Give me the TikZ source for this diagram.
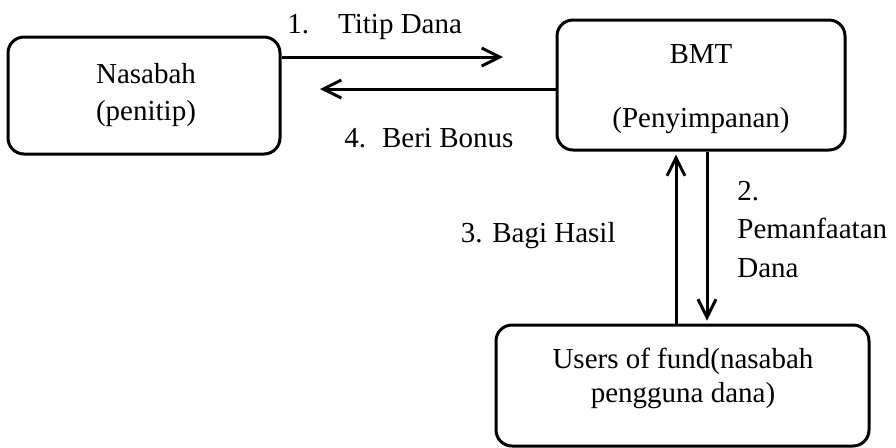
\documentclass[tikz,border=0pt]{standalone}
\usepackage{fontspec}
\setmainfont{Liberation Serif}
\usetikzlibrary{arrows.meta}
\begin{document}
\begin{tikzpicture}[x=0.5pt,y=-0.5pt,
  box/.style={draw, line width=1.5pt, rounded corners=8pt, inner sep=0pt},
  txt/.style={font=\fontsize{14.5}{17}\selectfont, inner sep=0pt},
  arr/.style={line width=1.5pt, -{Straight Barb[length=9pt,width=9pt]}}]
\useasboundingbox (0,0) rectangle (896,447);
% boxes
\node[box, minimum width=136pt, minimum height=58.5pt] (nas) at (144,95.5) {};
\node[box, minimum width=144pt, minimum height=65pt] (bmt) at (701,85) {};
\node[box, minimum width=186.5pt, minimum height=60.5pt] (users) at (682.5,385.5) {};
% box texts
\node[txt, anchor=base] (nas1) at (146,83) {Nasabah};
\node[txt, anchor=base] (nas2) at (146,120) {(penitip)};
\node[txt, anchor=base] (bmt1) at (701,63) {BMT};
\node[txt, anchor=base] (bmt2) at (701,127) {(Penyimpanan)};
\node[txt, anchor=base] (us1) at (683,368) {Users of fund(nasabah};
\node[txt, anchor=base] (us2) at (683,402) {pengguna dana)};
% connectors
\coordinate (t1) at (503,57);
\coordinate (b4) at (320,89);
\coordinate (xu) at (676,0);
\coordinate (xd) at (707,0);
\draw[arr] (nas.east |- t1) -- (t1);
\draw[arr] (bmt.west |- b4) -- (b4);
\draw[arr, shorten >=1.5pt] (users.north -| xu) -- (bmt.south -| xu);
\draw[arr, shorten >=1.5pt] (bmt.south -| xd) -- (users.north -| xd);
% labels
\node[txt, anchor=base west] (l1) at (287,33) {1.\hspace{1em}Titip Dana};
\node[txt, anchor=base west] (l4) at (344,147) {4.\hspace{0.55em}Beri Bonus};
\node[txt, anchor=base east] (l3) at (616,242) {3. Bagi Hasil};
\node[txt, anchor=base west] (l2a) at (737,200) {2.};
\node[txt, anchor=base west] (l2b) at (737,238) {Pemanfaatan};
\node[txt, anchor=base west] (l2c) at (737,277) {Dana};
\end{tikzpicture}
\end{document}
